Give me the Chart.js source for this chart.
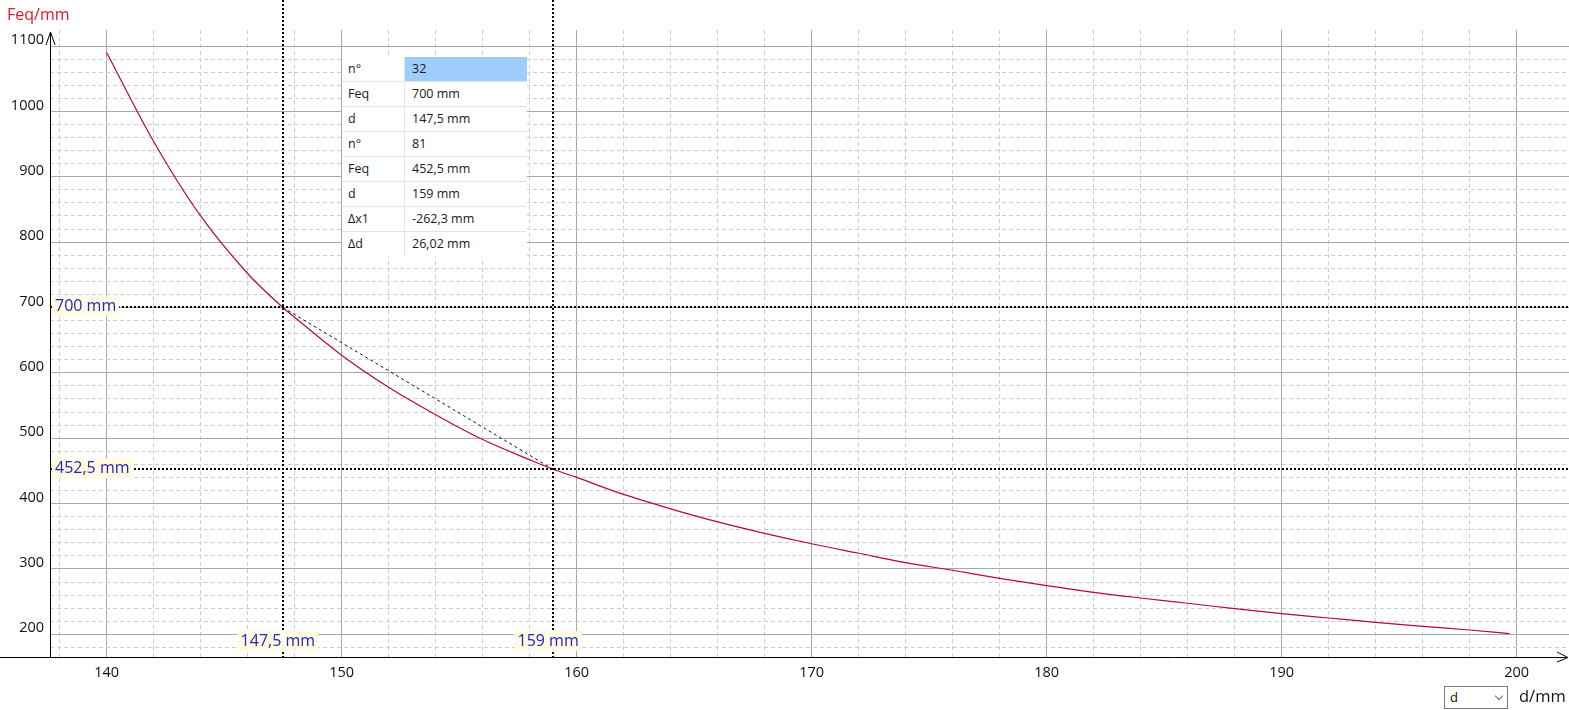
<!DOCTYPE html>
<html>
<head>
<meta charset="utf-8">
<script src="https://cdn.jsdelivr.net/npm/chart.js@4.4.0/dist/chart.umd.min.js"></script>
<style>
  html, body { margin: 0; padding: 0; background: #fff; overflow: hidden; }
  #wrap { position: relative; width: 1569px; height: 710px; font-family: "Open Sans", sans-serif; }
  #chart { position: absolute; left: 0; top: 0; }
  #ytitle { position: absolute; left: 7px; top: 4px; font-size: 16px; line-height: 20px; color: #e3172d; }
  #xtitle { position: absolute; left: 1519px; top: 686px; font-size: 16.5px; line-height: 20px; color: #111; }
  #pick { position: absolute; left: 1444px; top: 686px; width: 62px; height: 21px; border: 1px solid #7a7a7a;
          background: #fff; font-size: 13px; line-height: 21px; color: #111; }
  #pick span.t { position: absolute; left: 5px; }
  #pick span.c { position: absolute; left: 51px; top: 6px; width: 5px; height: 5px;
                 border-right: 1px solid #666; border-bottom: 1px solid #666; transform: rotate(45deg); }
  #info { position: absolute; left: 342px; top: 57px; width: 185px; background: #fff; font-size: 12.5px; color: #1a1a1a; }
  #info .row { display: flex; height: 25px; box-sizing: border-box; border-bottom: 1px solid #e4e4e4; }
  #info .row:last-child { border-bottom: none; }
  #info .k { width: 63px; box-sizing: border-box; border-right: 1px solid #e4e4e4; padding-left: 6px; line-height: 24px; }
  #info .v { flex: 1; padding-left: 7px; line-height: 24px; }
  #info .sel { background: #9fcdfb; }
</style>
</head>
<body>
<div id="wrap">
  <canvas id="chart" width="1569" height="710"></canvas>
  <div id="ytitle">Feq/mm</div>
  <div id="info"></div>
  <div id="pick"><span class="t">d</span><span class="c"></span></div>
  <div id="xtitle">d/mm</div>
</div>
<script>
// curve
const dValues = [140, 142, 144, 146, 147.5, 148, 150, 152, 154, 156, 158, 159, 160, 162, 164, 166, 168, 170,
                 172, 174, 176, 178, 180, 182, 184, 186, 188, 190, 192, 194, 196, 198, 199.7]
const feqValues = [1090, 954, 840, 752, 700, 685, 627, 578, 536, 498, 467, 452.5, 440, 414, 392, 372, 354.5, 338.5,
                   324, 309.6, 298, 285.7, 274.4, 264.3, 255.6, 247.5, 239.2, 231.6, 225, 218.4, 212.3, 206.6, 201]

// the two cursors
const cursorD = [147.5, 159]
const cursorF = [700, 452.5]
const cursorDLabels = ['147,5 mm', '159 mm']
const cursorFLabels = ['700 mm', '452,5 mm']

// grid ticks
const xTicks = [138, 140, 142, 144, 146, 148, 150, 152, 154, 156, 158, 160, 162, 164, 166, 168, 170, 172, 174, 176,
                178, 180, 182, 184, 186, 188, 190, 192, 194, 196, 198, 200]
const yTicks = [180, 200, 220, 240, 260, 280, 300, 320, 340, 360, 380, 400, 420, 440, 460, 480, 500, 520, 540, 560,
                580, 600, 620, 640, 660, 680, 700, 720, 740, 760, 780, 800, 820, 840, 860, 880, 900, 920, 940, 960,
                980, 1000, 1020, 1040, 1060, 1080, 1100]

// info table
const tableLabels = ['n°', 'Feq', 'd', 'n°', 'Feq', 'd', 'Δx1', 'Δd']
const tableValues = ['32', '700 mm', '147,5 mm', '81', '452,5 mm', '159 mm', '-262,3 mm', '26,02 mm']

const info = document.getElementById('info')
tableLabels.forEach((k, i) => {
  const row = document.createElement('div')
  row.className = 'row'
  row.innerHTML = '<div class="k">' + k + '</div><div class="v' + (i === 0 ? ' sel' : '') + '">' + tableValues[i] + '</div>'
  info.appendChild(row)
})

const MAJOR = '#a8a8a8'
const MINOR = '#cdcdcd'

function tag(ctx, text, x, y, centered) {
  ctx.font = '16px "Open Sans"'
  const w = ctx.measureText(text).width
  const left = centered ? x - w / 2 : x
  ctx.fillStyle = '#fffbe0'
  ctx.fillRect(left - 3, y - 10, w + 6, 20)
  ctx.fillStyle = '#2323c8'
  ctx.textBaseline = 'middle'
  ctx.textAlign = 'left'
  ctx.fillText(text, left, y)
}

const overlay = {
  id: 'overlay',
  afterDatasetsDraw(chart) {
    const { ctx, chartArea: a, scales: { x, y } } = chart
    ctx.save()
    // axes with arrows
    ctx.strokeStyle = '#000'
    ctx.lineWidth = 1
    ctx.beginPath()
    ctx.moveTo(0, a.bottom + 0.5); ctx.lineTo(1566, a.bottom + 0.5)
    ctx.moveTo(a.left + 0.5, a.bottom); ctx.lineTo(a.left + 0.5, 32)
    ctx.moveTo(46, 45); ctx.lineTo(50.5, 32); ctx.lineTo(55, 45)
    ctx.moveTo(1557, 652); ctx.lineTo(1568, 657.5); ctx.lineTo(1557, 662)
    ctx.stroke()

    // cursor lines
    ctx.lineWidth = 2
    ctx.setLineDash([2, 2])
    ctx.beginPath()
    cursorD.forEach(d => {
      const px = Math.round(x.getPixelForValue(d))
      ctx.moveTo(px, 0); ctx.lineTo(px, a.bottom)
    })
    cursorF.forEach(f => {
      const py = Math.round(y.getPixelForValue(f))
      ctx.moveTo(a.left, py); ctx.lineTo(a.right, py)
    })
    ctx.stroke()
    ctx.setLineDash([])

    cursorF.forEach((f, i) => tag(ctx, cursorFLabels[i], 55, y.getPixelForValue(f) - 1, false))
    cursorD.forEach((d, i) => tag(ctx, cursorDLabels[i], x.getPixelForValue(d) - 5, 641, true))
    ctx.restore()
  }
}

const isMajorX = v => v % 10 === 0
const isMajorY = v => v % 100 === 0
const tickFont = { family: 'Open Sans', size: 14.5 }

new Chart(document.getElementById('chart'), {
  type: 'line',
  data: {
    datasets: [
      {
        data: dValues.map((d, i) => ({ x: d, y: feqValues[i] })),
        borderColor: '#b80a28',
        borderWidth: 1.2,
        pointRadius: 0,
        cubicInterpolationMode: 'monotone',
        fill: false
      },
      {
        data: cursorD.map((d, i) => ({ x: d, y: cursorF[i] })),
        borderColor: '#111',
        borderWidth: 1,
        borderDash: [3, 3],
        pointRadius: 0,
        fill: false
      }
    ]
  },
  options: {
    responsive: false,
    animation: false,
    events: [],
    layout: { padding: { top: 30, left: 0, right: 0, bottom: 0 } },
    plugins: { legend: { display: false }, tooltip: { enabled: false } },
    scales: {
      x: {
        type: 'linear',
        min: 137.59,
        max: 202.23,
        afterBuildTicks: s => { s.ticks = xTicks.map(v => ({ value: v })) },
        afterFit: s => { s.height = 53 },
        ticks: {
          autoSkip: false,
          maxRotation: 0,
          padding: 7,
          color: '#111',
          font: tickFont,
          callback: v => isMajorX(v) ? String(v) : ''
        },
        grid: {
          drawTicks: false,
          color: c => c.tick && isMajorX(c.tick.value) ? MAJOR : MINOR
        },
        border: { display: false, dash: c => c.tick && isMajorX(c.tick.value) ? [] : [4, 3] }
      },
      y: {
        type: 'linear',
        min: 165.3,
        max: 1124.5,
        afterBuildTicks: s => { s.ticks = yTicks.map(v => ({ value: v })) },
        afterFit: s => { s.width = 50 },
        ticks: {
          autoSkip: false,
          padding: 6,
          labelOffset: -6,
          color: '#111',
          font: tickFont,
          callback: v => isMajorY(v) ? String(v) : ''
        },
        grid: {
          drawTicks: false,
          color: c => c.tick && isMajorY(c.tick.value) ? MAJOR : MINOR
        },
        border: { display: false, dash: c => c.tick && isMajorY(c.tick.value) ? [] : [4, 3] }
      }
    }
  },
  plugins: [overlay]
})
</script>
</body>
</html>
